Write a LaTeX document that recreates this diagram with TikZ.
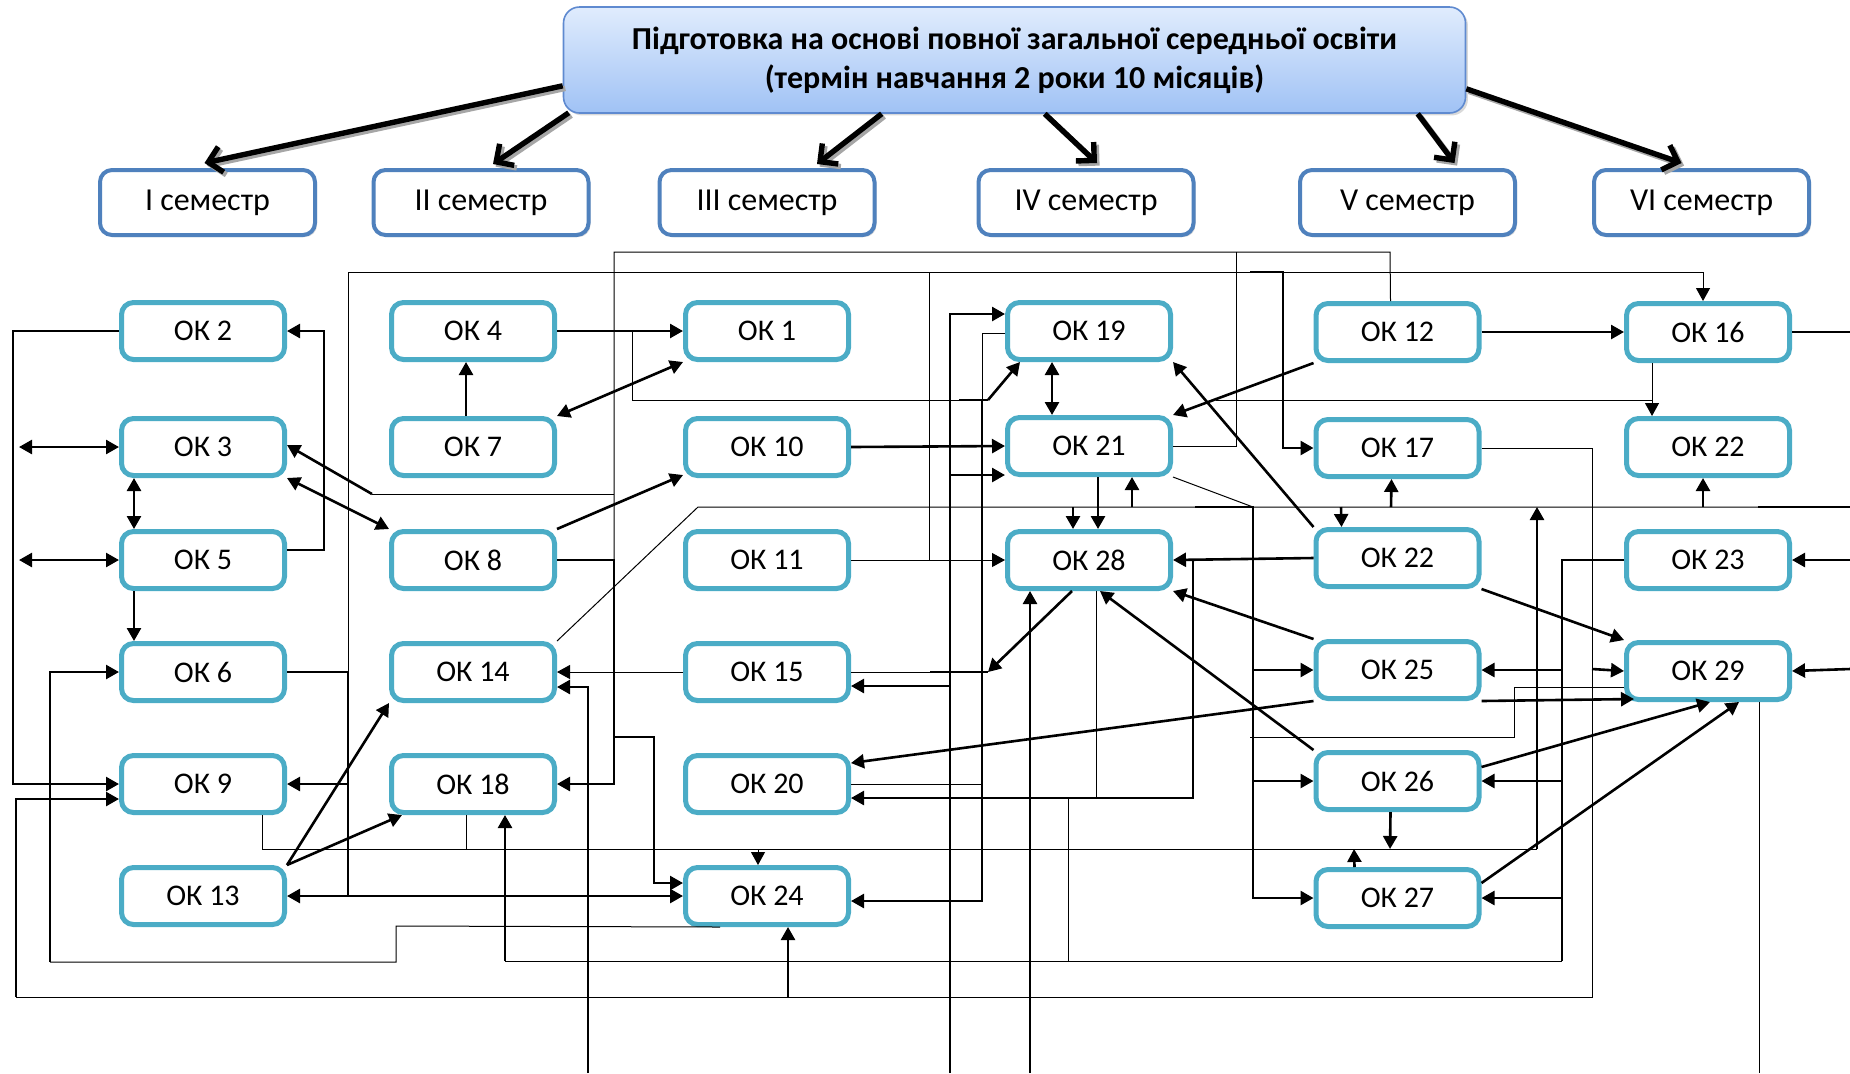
\documentclass[tikz,border=0pt]{standalone}
\usepackage{fontspec}
\setmainfont{Carlito}
\usetikzlibrary{arrows.meta,calc,shadows}
\definecolor{okc}{RGB}{75,172,198}
\definecolor{semc}{RGB}{79,129,189}
\definecolor{hdtop}{RGB}{224,236,253}
\definecolor{hdbot}{RGB}{160,194,245}
\definecolor{hdborder}{RGB}{95,138,208}
\newcommand\hdA[2]{\draw[hdarr,black!35,transform canvas={shift={(1.3pt,-1.3pt)}}] #1 -- #2; \draw[hdarr] #1 -- #2;}
\begin{document}
\begin{tikzpicture}[x=0.5pt,y=-0.5pt,
 okbox/.style={draw=okc, line width=2.5pt, rounded corners=6pt, fill=white, minimum width=81.5pt, minimum height=28.5pt, inner sep=0pt, font=\fontsize{15}{18}\selectfont},
 sembox/.style={draw=semc, line width=2pt, rounded corners=6pt, fill=white, minimum width=107.5pt, minimum height=32.5pt, inner sep=0pt, font=\fontsize{16}{19}\selectfont, drop shadow={shadow xshift=1pt,shadow yshift=-1pt,opacity=0.3}},
 hdbox/.style={draw=hdborder, line width=0.8pt, rounded corners=8pt, top color=hdtop, bottom color=hdbot, minimum width=451pt, minimum height=53pt, align=center, inner sep=0pt, font=\bfseries\fontsize{16}{19.5}\selectfont, drop shadow={shadow xshift=1.2pt,shadow yshift=-1.2pt,opacity=0.3}},
 hdarr/.style={line width=2.7pt, -{Straight Barb[length=6.5pt,width=13pt]}},
 thk/.style={line width=1.3pt},
 thn/.style={line width=0.5pt},
 tip/.style={-{Triangle[length=6.5pt,width=7pt]}},
 dtip/.style={{Triangle[length=6.5pt,width=7pt]}-{Triangle[length=6.5pt,width=7pt]}},
]
\useasboundingbox (0,0) rectangle (1850,1073);

% header and semesters
\node[hdbox] (hd) at (1014.5,60) {Підготовка на основі повної загальної середньої освіти\\(термін навчання 2 роки 10 місяців)};
\node[sembox] (sem1) at (207.5,202.5) {I семестр};
\node[sembox] (sem2) at (481,202.5) {II семестр};
\node[sembox] (sem3) at (767,202.5) {III семестр};
\node[sembox] (sem4) at (1086,202.5) {IV семестр};
\node[sembox] (sem5) at (1407.5,202.5) {V семестр};
\node[sembox] (sem6) at (1701.5,202.5) {VI семестр};

\hdA{($(hd.south west)+(0,-28)$)}{($(sem1.north)+(-3,-5)$)}
\hdA{($(hd.south west)+(6,-1)$)}{($(sem2.north)+(12,-4)$)}
\hdA{($(hd.south west)+(319,0)$)}{($(sem3.north)+(50,-4)$)}
\hdA{($(hd.south west)+(482,0)$)}{($(sem4.north)+(11,-5)$)}
\hdA{($(hd.south west)+(855,0)$)}{($(sem5.north)+(47,-5)$)}
\hdA{($(hd.south east)+(0,-25)$)}{($(sem6.north)+(-20,-5)$)}

% OK nodes
\node[okbox] (ok2) at (203,331) {ОК 2};
\node[okbox] (ok3) at (203,447) {ОК 3};
\node[okbox] (ok5) at (203,560) {ОК 5};
\node[okbox] (ok6) at (203,672) {ОК 6};
\node[okbox] (ok9) at (203,784) {ОК 9};
\node[okbox] (ok13) at (203,896) {ОК 13};
\node[okbox] (ok4) at (473,331) {ОК 4};
\node[okbox] (ok7) at (473,447) {ОК 7};
\node[okbox] (ok8) at (473,560) {ОК 8};
\node[okbox] (ok14) at (473,672) {ОК 14};
\node[okbox] (ok18) at (473,784) {ОК 18};
\node[okbox] (ok1) at (767,331) {ОК 1};
\node[okbox] (ok10) at (767,447) {ОК 10};
\node[okbox] (ok11) at (767,560) {ОК 11};
\node[okbox] (ok15) at (767,672) {ОК 15};
\node[okbox] (ok20) at (767,784) {ОК 20};
\node[okbox] (ok24) at (767,896) {ОК 24};
\node[okbox] (ok19) at (1089,331) {ОК 19};
\node[okbox] (ok21) at (1089,446) {ОК 21};
\node[okbox] (ok28) at (1089,560) {ОК 28};
\node[okbox] (ok12) at (1397.5,332) {ОК 12};
\node[okbox] (ok17) at (1397.5,448) {ОК 17};
\node[okbox] (ok22a) at (1397.5,558) {ОК 22};
\node[okbox] (ok25) at (1397.5,670) {ОК 25};
\node[okbox] (ok26) at (1397.5,781) {ОК 26};
\node[okbox] (ok27) at (1397.5,898) {ОК 27};
\node[okbox] (ok16) at (1708,332) {ОК 16};
\node[okbox] (ok22b) at (1708,447) {ОК 22};
\node[okbox] (ok23) at (1708,560) {ОК 23};
\node[okbox] (ok29) at (1708,671) {ОК 29};

% free ends
\coordinate (fL3) at (19,447);
\coordinate (fL5) at (19,560);
\coordinate (b588) at (588,1073);
\coordinate (b950) at (950,1073);
\coordinate (b1030) at (1030,1073);
\coordinate (b1759) at (1759,1073);
\coordinate (r16) at (1850,332);
\coordinate (r23) at (1850,560);
\coordinate (r29) at (1850,669);
\coordinate (r507) at (1850,507);

% left column
\draw[thk,tip] (ok2.west) -| (13,784) -- (ok9.west);
\draw[thk,dtip] (fL3) -- (ok3.west);
\draw[thk,dtip] (fL5) -- (ok5.west);
\draw[thk,dtip] ($(ok3.south)+(-69,0)$) -- ($(ok5.north)+(-69,0)$);
\draw[thk,tip] ($(ok5.south)+(-69,0)$) -- ($(ok6.north)+(-69,0)$);
\draw[thk,tip] ($(ok5.east)+(0,-10)$) -| (324,331) -- (ok2.east);
\draw[thn] (372,494) -- (614,494);
\draw[thk,tip] (372,494) -- ($(ok3.east)+(0,-2)$);
\draw[thk,dtip] (ok3.south east) -- (ok8.north west);

% frame lines
\draw[thn] (614,562) -- (614,252) -- (1390,252) -- ($(ok12.north)+(-7,0)$);
\draw[thn] (ok21.east) -| (1236,252);
\draw[thn,tip] (348,672) -- (348,272) -| ($(ok16.north)+(-5,0)$);
\draw[thk] (ok6.east) -- (348,672) -- (348,896);
\draw[thk,tip] (348,784) -- (ok9.east);
\draw[thk,dtip] (ok13.east) -- (ok24.west);

% column 2
\draw[thk,tip] ($(ok7.north)+(-7,0)$) -- ($(ok4.south)+(-7,0)$);
\draw[thk,tip] (ok4.east) -- (ok1.west);
\draw[thn] (632,331) -- (632,400) -- (988,400);
\draw[thk] (959,400) -- (988,400);
\draw[thk,tip] (988,400) -- ($(ok19.south west)+(15,0)$);
\draw[thk,dtip] (ok7.north east) -- (ok1.south west);
\draw[thk,tip] (ok8.north east) -- ($(ok10.south west)+(0,-3)$);
\draw[thn] (ok14.north east) -- (698,507) -- (1758,507);
\draw[thk] (1758,507) -- (r507);
\draw[thk,tip] (ok8.east) -| (614,784) -- (ok18.east);
\draw[thk,tip] (614,737) -| (654,883) -- ($(ok24.west)+(0,-13)$);
\draw[thn,tip] (ok15.west) -- (ok14.east);
\draw[thk,tip] (b588) |- ($(ok14.east)+(0,15)$);
\draw[thk,tip] (ok13.north east) -- (ok14.south west);
\draw[thk,tip] (ok13.north east) -- ($(ok18.south west)+(13,0)$);

% line y 849
\draw[thn] ($(ok9.south)+(59,0)$) |- (1537,849);
\draw[thn] ($(ok18.south)+(-7,0)$) -- (466,849);
\draw[thn,tip] (758,849) -- ($(ok24.north)+(-9,0)$);
\draw[thk,tip] ($(ok26.south)+(-7,0)$) -- (1390,849);
\draw[thk,tip] ($(ok27.north)+(-43,0)$) -- (1354,849);
\draw[thk,tip] (1537,849) -- (1537,507);

% OK 6 loop
\draw[thn] ($(ok24.south west)+(37,0)$) -- (396,926) -- (396,962) -- (50,962);
\draw[thk,tip] (50,962) |- (ok6.west);

% line y 997
\draw[thn] (ok17.east) -| (1592,997) -- (16,997);
\draw[thk,tip] (16,997) |- ($(ok9.west)+(0,15)$);
\draw[thk,tip] (788,997) -- ($(ok24.south)+(21,0)$);
\draw[thk,tip] (1592,669) -- (ok29.west);

% columns 3 and 4
\draw[thk,tip] (ok10.east) -- (ok21.west);
\draw[thn,tip] (ok11.east) -- (ok28.west);
\draw[thn] (929,272) -- (929,560);
\draw[thk,tip] (b950) |- ($(ok19.west)+(0,-17)$);
\draw[thk,tip] (950,475) -- ($(ok21.west)+(0,29)$);
\draw[thk,tip] (950,686) -- ($(ok15.east)+(0,14)$);
\draw[thn] ($(ok19.west)+(0,2)$) -| (982,400);
\draw[thk,tip] (982,400) |- ($(ok24.east)+(0,5)$);
\draw[thn] (ok15.east) -- (930,672);
\draw[thk] (930,672) -- (988,672);
\draw[thk,tip] ($(ok28.south)+(-17,0)$) -- (988,672);
\draw[thn] (ok20.east) -- (982,784);
\draw[thk,dtip] ($(ok19.south)+(-37,0)$) -- ($(ok21.north)+(-37,0)$);
\draw[thk,tip] ($(ok21.south)+(9,0)$) -- ($(ok28.north)+(9,0)$);
\draw[thk,tip] (1073,507) -- ($(ok28.north)+(-16,0)$);
\draw[thk,tip] (1132,507) -- ($(ok21.south)+(43,0)$);
\draw[thn] (ok21.south east) -- (1253,507);
\draw[thk,tip] (1195,507) -| (1253,898) -- (ok27.west);
\draw[thk,tip] (1253,670) -- (ok25.west);
\draw[thk,tip] (1253,781) -- (ok26.west);
\draw[thk,tip] (ok22a.west) -- (ok28.east);
\draw[thk,tip] (1193,559) |- ($(ok20.east)+(0,14)$);
\draw[thn] ($(ok28.south)+(7,0)$) -- (1096,798);
\draw[thn] (1068,798) -- (1068,961);
\draw[thk,tip] (b1030) -- ($(ok28.south)+(-59,0)$);

% columns 5 and 6
\draw[thk] (ok23.west) -| (1562,961);
\draw[thn] (1562,961) -- (505,961);
\draw[thk,tip] (505,961) -- ($(ok18.south)+(32,0)$);
\draw[thk,tip] (1562,670) -- (ok25.east);
\draw[thk,tip] (1562,781) -- (ok26.east);
\draw[thk,tip] (1562,898) -- (ok27.east);
\draw[thk,tip] (ok12.east) -- (ok16.west);
\draw[thk] (ok16.east) -- (r16);
\draw[thk,tip] (1250,272) -| (1283,448) -- (ok17.west);
\draw[thk,tip] (ok12.south west) -- (ok21.north east);
\draw[thk,tip] (ok22a.north west) -- (ok19.south east);
\draw[thk,tip] (1341,507) -- ($(ok22a.north)+(-56,0)$);
\draw[thk,tip] (1391,507) -- ($(ok17.south)+(-6,0)$);
\draw[thk,tip] (1703,507) -- ($(ok22b.south)+(-5,0)$);
\draw[thn,tip] ($(ok16.south)+(-56,0)$) -- ($(ok22b.north)+(-56,0)$);
\draw[thn] (1216,400) -- (1652,400);
\draw[thk,tip] (ok22a.south east) -- (ok29.north west);
\draw[thk,tip] (r23) -- (ok23.east);
\draw[thk,tip] (r29) -- (ok29.east);
\draw[thk,tip] (ok25.north west) -- (ok28.south east);
\draw[thk,tip] (ok26.north west) -- ($(ok28.south)+(11,0)$);
\draw[thk,tip] (ok25.south west) -- ($(ok20.east)+(0,-21)$);
\draw[thk,tip] (ok25.south east) -- ($(ok29.south west)+(10,-3)$);
\draw[thn] ($(ok29.west)+(0,16)$) -| (1514,737) -- (1250,737);
\draw[thk,tip] ($(ok26.east)+(0,-14)$) -- ($(ok29.south)+(2,0)$);
\draw[thk,tip] ($(ok27.east)+(0,-15)$) -- ($(ok29.south)+(31,0)$);
\draw[thn] ($(ok29.south)+(51,0)$) -- (b1759);
\end{tikzpicture}
\end{document}
